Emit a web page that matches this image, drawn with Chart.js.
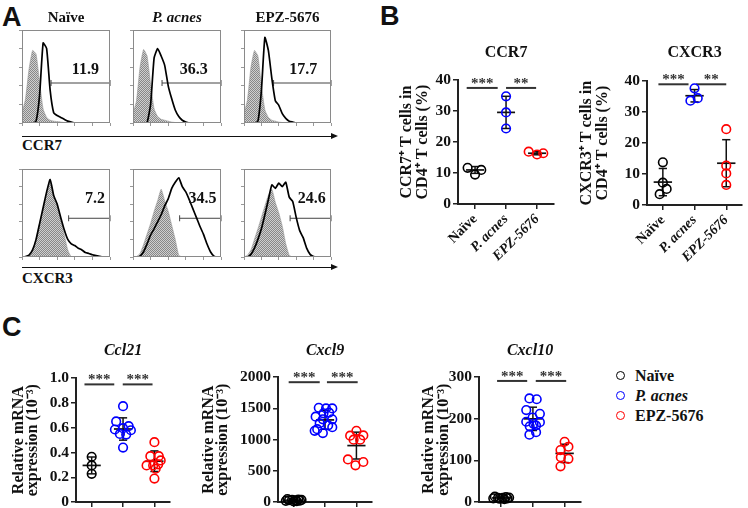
<!DOCTYPE html>
<html lang="en">
<head>
<meta charset="UTF-8">
<title>CCR7 and CXCR3 in CD4+ T cells</title>
<script src="https://cdn.jsdelivr.net/npm/chart.js"></script>
<style>
  body { margin: 0; width: 748px; height: 508px; position: relative; overflow: hidden; background: #fff;
         font-family: "Liberation Serif", "Times New Roman", serif; color: #111; }
  canvas { position: absolute; }
  .panel { position: absolute; font-family: "Liberation Sans", Arial, sans-serif; font-weight: bold;
           font-size: 27px; line-height: 27px; }
  .axisname { position: absolute; font-weight: bold; font-size: 15px; line-height: 16px; }
  .arrow { position: absolute; height: 1px; background: #111; }
  .arrow:after { content: ""; position: absolute; right: -6px; top: -3px; border-left: 7px solid #111;
                 border-top: 3.5px solid transparent; border-bottom: 3.5px solid transparent; }
  .leg { position: absolute; left: 615px; height: 20px; line-height: 20px; padding-left: 20px;
         font-weight: bold; font-size: 16px; }
  .leg span { position: absolute; left: 1px; top: 5px; width: 7px; height: 7px; border: 1.6px solid; border-radius: 50%; }
</style>
</head>
<body>
<div class="panel" style="left:2px;top:4px">A</div>
<div class="panel" style="left:380px;top:3px">B</div>
<div class="panel" style="left:2px;top:314px">C</div>

<div class="arrow" style="left:22px;top:136px;width:310px"></div>
<div class="axisname" style="left:22px;top:137px">CCR7</div>
<div class="arrow" style="left:22px;top:267px;width:310px"></div>
<div class="axisname" style="left:22px;top:270px">CXCR3</div>

<script>
// ---- data ----
const groups = ['Naïve', 'P. acnes', 'EPZ-5676'];
const groupColors = ['#000000', '#0000ff', '#ff0000'];

// flow histograms, % of max height along the log fluorescence axis
const histX = [0, 4, 8, 12, 16, 20, 24, 28, 32, 36, 40, 44, 48, 52, 56, 60, 64, 68, 72, 76, 80, 84, 88, 92, 96, 100];
const ccr7IsoNaive   = [11, 26, 58, 78, 74, 44, 15, 6, 3, 2, 1.5, 1, 0.5, 0, 0, 0, 0, 0, 0, 0, 0, 0, 0, 0, 0, 0];
const ccr7StainNaive = [0, 0, 0, 0, 2, 30, 86, 80, 35, 11, 8, 6, 4, 2, 1, 0, 0, 0, 0, 0, 0, 0, 0, 0, 0, 0];
const ccr7IsoAcnes   = [10, 24, 60, 79, 72, 42, 15, 7, 4, 3, 2, 1, 0.5, 0, 0, 0, 0, 0, 0, 0, 0, 0, 0, 0, 0, 0];
const ccr7StainAcnes = [0, 0, 0, 0, 0.5, 20, 70, 80, 72, 62, 40, 26, 14, 7, 3, 1, 0, 0, 0, 0, 0, 0, 0, 0, 0, 0];
const ccr7IsoEpz     = [10, 25, 60, 78, 72, 40, 14, 6, 3, 2, 1, 0.5, 0, 0, 0, 0, 0, 0, 0, 0, 0, 0, 0, 0, 0, 0];
const ccr7StainEpz   = [0, 0, 0, 0, 2, 35, 92, 78, 48, 24, 19, 10, 5, 2, 1, 0, 0, 0, 0, 0, 0, 0, 0, 0, 0, 0];
const cxcr3IsoNaive   = [0, 0.5, 2, 8, 20, 38, 55, 72, 85, 68, 58, 42, 25, 8, 0, 0, 0, 0, 0, 0, 0, 0, 0, 0, 0, 0];
const cxcr3StainNaive = [0, 0.5, 2, 8, 20, 38, 56, 74, 88, 70, 60, 45, 31, 20, 15, 13, 10, 8, 5, 4, 2.5, 1.5, 0.7, 0, 0, 0];
const cxcr3IsoAcnes   = [0, 0.5, 4, 14, 26, 38, 52, 64, 77, 64, 52, 36, 20, 2, 0, 0, 0, 0, 0, 0, 0, 0, 0, 0, 0, 0];
const cxcr3StainAcnes = [0, 0, 1, 6, 15, 25, 32, 40, 48, 58, 66, 78, 85, 90, 80, 74, 65, 55, 45, 35, 26, 15, 6, 1, 0, 0];
const cxcr3IsoEpz     = [0, 2, 8, 20, 32, 45, 58, 70, 77, 62, 50, 35, 15, 2, 0, 0, 0, 0, 0, 0, 0, 0, 0, 0, 0, 0];
const cxcr3StainEpz   = [0, 0, 3, 10, 20, 32, 48, 65, 82, 78, 84, 80, 85, 68, 63, 45, 30, 22, 10, 3, 0.5, 0, 0, 0, 0, 0];
const ccr7GateStart = [33, 33, 34];
const ccr7GateLevel = 43;
const ccr7Percent = ['11.9', '36.3', '17.7'];
const cxcr3GateStart = [53, 53, 53];
const cxcr3GateLevel = 44;
const cxcr3Percent = ['7.2', '34.5', '24.6'];

// B: % positive cells
const ccr7Naive = [11.7, 9.5, 11.0];          const ccr7NaiveJit = [-0.24, 0, 0.2];
const ccr7Acnes = [34.8, 29.6, 24.4];         const ccr7AcnesJit = [0, 0, 0];
const ccr7Epz = [16.9, 16.0, 16.4];           const ccr7EpzJit = [-0.27, 0, 0.2];
const ccr7Mean = [11.0, 29.6, 16.4];          const ccr7Sd = [1.1, 5.2, 0.5];
const ccr7SigFrom = [-0.27, 1.0];  const ccr7SigTo = [0.73, 1.97];  const ccr7SigY = 37.5;  const ccr7Stars = ['***', '**'];

const cxcr3Naive = [13.8, 7.2, 5.2, 3.5];     const cxcr3NaiveJit = [0, 0, 0.12, -0.1];
const cxcr3Acnes = [37.7, 33.7, 34.5];        const cxcr3AcnesJit = [0, -0.13, 0.1];
const cxcr3Epz = [24.5, 12.7, 10.2, 6.5];     const cxcr3EpzJit = [0, 0, 0, 0];
const cxcr3Mean = [7.4, 35.3, 13.5];          const cxcr3Sd = [4.4, 2.0, 7.6];
const cxcr3SigFrom = [-0.14, 1.05]; const cxcr3SigTo = [0.81, 2.0]; const cxcr3SigY = 39;  const cxcr3Stars = ['***', '**'];

// C: relative mRNA (10^-3)
const ccl21Naive = [0.366, 0.296, 0.228];     const ccl21NaiveJit = [0, 0, 0];
const ccl21Acnes = [0.774, 0.651, 0.613, 0.597, 0.586, 0.58, 0.55, 0.545, 0.44];
const ccl21AcnesJit = [0, -0.22, 0.18, 0, -0.26, 0.25, -0.1, 0.1, 0];
const ccl21Epz = [0.484, 0.371, 0.371, 0.336, 0.305, 0.296, 0.296, 0.27, 0.19];
const ccl21EpzJit = [0, -0.13, 0.14, 0.2, 0.12, -0.25, -0.04, 0.04, 0];
const ccl21Mean = [0.296, 0.59, 0.33];        const ccl21Sd = [0.068, 0.09, 0.083];
const ccl21SigFrom = [-0.23, 0.99]; const ccl21SigTo = [0.72, 1.94]; const ccl21SigY = 0.95; const ccl21Stars = ['***', '***'];

const cxcl9Naive = [48, 42, 38, 35, 30, 28, 25, 20, 15, 10];
const cxcl9NaiveJit = [-0.2, 0.15, -0.05, 0.25, -0.15, 0.05, 0.2, -0.25, 0.1, 0];
const cxcl9Acnes = [1511, 1500, 1500, 1432, 1421, 1368, 1326, 1326, 1263, 1230, 1200, 1168, 1142, 1105];
const cxcl9AcnesJit = [-0.2, 0.03, 0.23, 0.13, -0.05, -0.3, -0.07, 0.23, -0.17, 0.1, 0.23, -0.25, -0.33, -0.07];
const cxcl9Epz = [1142, 1068, 1063, 1000, 1000, 684, 642, 589];
const cxcl9EpzJit = [0, 0.22, -0.2, -0.09, 0.12, -0.27, 0.22, -0.03];
const cxcl9Mean = [30, 1316, 905];            const cxcl9Sd = [12, 150, 215];
const cxcl9SigFrom = [-0.16, 1.06]; const cxcl9SigTo = [0.83, 2.04]; const cxcl9SigY = 1920; const cxcl9Stars = ['***', '***'];

const cxcl10Naive = [13, 12, 11, 10, 10, 9, 9, 8, 7];
const cxcl10NaiveJit = [-0.2, 0.15, 0.25, -0.1, 0.05, -0.25, 0.2, -0.05, 0.1];
const cxcl10Acnes = [249, 247, 221, 212, 203, 193, 192, 188, 184, 182, 168, 162];
const cxcl10AcnesJit = [-0.11, 0.12, -0.21, 0.22, -0.01, -0.21, 0.22, 0.02, 0.1, -0.1, 0.1, -0.11];
const cxcl10Epz = [145, 133, 125, 108, 104, 86];
const cxcl10EpzJit = [0, 0.12, -0.13, -0.12, 0.12, -0.13];
const cxcl10Mean = [10, 200, 117];            const cxcl10Sd = [2, 28, 22];
const cxcl10SigFrom = [-0.13, 1.09]; const cxcl10SigTo = [0.82, 2.05]; const cxcl10SigY = 291; const cxcl10Stars = ['***', '***'];

// ---- helpers ----
const serif = '"Liberation Serif", "Times New Roman", serif';
Chart.defaults.font.family = serif;
Chart.defaults.color = '#111';
Chart.defaults.animation = false;
Chart.defaults.plugins.legend.display = false;
Chart.defaults.plugins.tooltip.enabled = false;

function mount(left, top, w, h) {
  const c = document.createElement('canvas');
  c.width = w; c.height = h;
  c.style.left = left + 'px'; c.style.top = top + 'px';
  c.style.width = w + 'px'; c.style.height = h + 'px';
  document.body.appendChild(c);
  return c;
}

// text at data coordinates (percent labels, significance stars)
const notes = {
  id: 'notes',
  afterDatasetsDraw(chart, args, opts) {
    const { ctx, scales: { x, y } } = chart;
    (opts.items || []).forEach(it => {
      ctx.save();
      ctx.font = it.font;
      ctx.fillStyle = it.color || '#111';
      ctx.textAlign = 'center';
      ctx.textBaseline = it.baseline || 'alphabetic';
      ctx.fillText(it.text, x.getPixelForValue(it.x), y.getPixelForValue(it.y) + (it.dy || 0));
      ctx.restore();
    });
  }
};

const frame = {
  id: 'frame',
  afterDraw(chart) {
    const { ctx, chartArea: a } = chart;
    ctx.save();
    ctx.strokeStyle = '#8a8a8a';
    ctx.lineWidth = 1;
    ctx.strokeRect(Math.round(a.left) + 0.5, Math.round(a.top) + 0.5, Math.round(a.width) - 1, Math.round(a.height) - 1);
    ctx.restore();
  }
};

function stipple(canvas) {
  const p = document.createElement('canvas');
  p.width = 2; p.height = 2;
  const g = p.getContext('2d');
  g.fillStyle = '#cfcfcf'; g.fillRect(0, 0, 2, 2);
  g.fillStyle = '#888888'; g.fillRect(0, 0, 1, 1); g.fillRect(1, 1, 1, 1);
  return canvas.getContext('2d').createPattern(p, 'repeat');
}

function histChart(canvas, o) {
  const fixed = (w, h) => s => { if (w != null) s.width = w; if (h != null) s.height = h;
    s.paddingLeft = 0; s.paddingRight = 0; s.paddingTop = 0; s.paddingBottom = 0; };
  new Chart(canvas, {
    type: 'scatter',
    data: { datasets: [
      { data: histX.map((x, i) => ({ x, y: o.stain[i] })), showLine: true, borderColor: '#000',
        borderWidth: 1.7, pointRadius: 0, tension: 0.15, fill: false },
      { data: histX.map((x, i) => ({ x, y: o.iso[i] })), showLine: true, borderColor: '#999',
        borderWidth: 0.6, backgroundColor: stipple(canvas), fill: 'origin', pointRadius: 0, tension: 0.15 },
      { data: [{ x: o.gate, y: o.level }, { x: 100, y: o.level }], showLine: true, borderColor: '#444',
        borderWidth: 1, pointStyle: 'line', rotation: 90, pointRadius: 3, pointBorderColor: '#444',
        pointBorderWidth: 1, clip: false }
    ] },
    options: {
      responsive: false,
      layout: { padding: { top: o.title ? 0 : 2 } },
      scales: {
        x: { type: 'linear', min: 0, max: 100, ticks: { display: false, stepSize: 20 },
             grid: { drawOnChartArea: false, tickLength: 3, color: '#999' }, border: { display: false },
             afterFit: fixed(null, 4) },
        y: { min: 0, max: 100, ticks: { display: false, stepSize: 20 },
             grid: { drawOnChartArea: false, tickLength: 3, color: '#999' }, border: { display: false },
             afterFit: fixed(4, null) }
      },
      plugins: {
        title: { display: !!o.title, text: o.title, fullSize: false, color: '#111',
                 font: { size: 15, weight: 'bold', style: o.italic ? 'italic' : 'normal', lineHeight: 1.2 },
                 padding: { top: 0, bottom: 3 } },
        notes: { items: [{ text: o.pct, x: o.labelX, y: o.labelY, font: 'bold 16px ' + serif, baseline: 'middle' }] }
      }
    },
    plugins: [notes, frame]
  });
}

function seg(x1, y1, x2, y2, color, width) {
  return { data: [{ x: x1, y: y1 }, { x: x2, y: y2 }], showLine: true, borderColor: color,
           borderWidth: width, pointRadius: 0, clip: false };
}

function dotChart(canvas, o) {
  const datasets = [];
  o.sets.forEach((s, i) => {
    datasets.push({ data: s.vals.map((v, k) => ({ x: i + s.jit[k], y: v })), showLine: false,
      pointStyle: 'circle', pointRadius: 4.3, pointBorderWidth: 1.6, borderColor: groupColors[i],
      pointBorderColor: groupColors[i], backgroundColor: 'rgba(255,255,255,0)', clip: false });
  });
  o.mean.forEach((m, i) => {
    const hi = m + o.sd[i], lo = m - o.sd[i];
    datasets.push(seg(i - 0.29, m, i + 0.29, m, '#111', 1.7));
    datasets.push(seg(i, lo, i, hi, '#111', 1.5));
    datasets.push(seg(i - 0.13, hi, i + 0.13, hi, '#111', 1.5));
    datasets.push(seg(i - 0.13, lo, i + 0.13, lo, '#111', 1.5));
  });
  const stars = [];
  o.sigFrom.forEach((f, i) => {
    datasets.push(seg(f, o.sigY, o.sigTo[i], o.sigY, '#333', 2));
    stars.push({ text: o.stars[i], x: (f + o.sigTo[i]) / 2, y: o.sigY, dy: 0, font: 'bold 15px ' + serif, color: '#333' });
  });
  new Chart(canvas, {
    type: 'scatter',
    data: { datasets },
    options: {
      responsive: false,
      layout: { padding: 0 },
      scales: {
        x: { type: 'linear', min: o.xMin, max: o.xMax,
             afterBuildTicks: s => { s.ticks = [0, 1, 2].map(v => ({ value: v })); },
             ticks: { display: !!o.labels, minRotation: 45, maxRotation: 45, padding: 2,
                      callback: (v, i) => o.labels ? o.labels[i] : '',
                      font: c => ({ family: serif, size: 14, weight: 'bold', style: c.index > 0 ? 'italic' : 'normal' }) },
             grid: { drawOnChartArea: false, tickLength: 5, lineWidth: 1.5, color: '#222' },
             border: { width: 2, color: '#222' },
             afterFit: s => { s.height = o.xh; s.paddingLeft = 0; s.paddingRight = 0; } },
        y: { min: 0, max: o.yMax,
             ticks: { stepSize: o.yStep, padding: 2, callback: o.fmt,
                      font: { family: serif, size: 15.5, weight: 'bold' } },
             grid: { drawOnChartArea: false, tickLength: 5, lineWidth: 1.5, color: '#222' },
             border: { width: 2, color: '#222' },
             title: { display: true, text: o.yTitle, padding: 0,
                      font: { family: serif, size: o.yTitleSize, weight: 'bold', lineHeight: o.yTitleLH } },
             afterFit: s => { s.width = o.yw; s.paddingTop = 0; s.paddingBottom = 0; } }
      },
      plugins: {
        title: { display: true, text: o.title, fullSize: false, color: '#111',
                 font: { size: 16, weight: 'bold', style: o.italic ? 'italic' : 'normal', lineHeight: 1.2 },
                 padding: { top: 0, bottom: o.titlePad } },
        notes: { items: stars }
      }
    },
    plugins: [notes]
  });
}

// ---- panel A ----
const topBoxes = [[17, 98], [128, 98], [239, 97]];
const ccr7Iso = [ccr7IsoNaive, ccr7IsoAcnes, ccr7IsoEpz];
const ccr7Stain = [ccr7StainNaive, ccr7StainAcnes, ccr7StainEpz];
const cxcr3Iso = [cxcr3IsoNaive, cxcr3IsoAcnes, cxcr3IsoEpz];
const cxcr3Stain = [cxcr3StainNaive, cxcr3StainAcnes, cxcr3StainEpz];
const ccr7LabelX = [72, 69, 68];
const cxcr3LabelX = [83, 79, 78];
topBoxes.forEach(([left, w], i) => {
  histChart(mount(left, 9, w, 119), { title: groups[i], italic: i === 1, iso: ccr7Iso[i], stain: ccr7Stain[i],
    gate: ccr7GateStart[i], level: ccr7GateLevel, pct: ccr7Percent[i], labelX: ccr7LabelX[i], labelY: 57 });
  histChart(mount(left, 164, w, 98), { title: '', iso: cxcr3Iso[i], stain: cxcr3Stain[i],
    gate: cxcr3GateStart[i], level: cxcr3GateLevel, pct: cxcr3Percent[i], labelX: cxcr3LabelX[i], labelY: 66 });
});

// ---- panel B ----
const intFmt = v => String(Math.round(v));
dotChart(mount(399, 43, 161, 225), {
  title: 'CCR7', yTitle: ['CCR7⁺ T cells in', 'CD4⁺ T cells (%)'], yTitleSize: 16, yTitleLH: 1.0,
  sets: [{ vals: ccr7Naive, jit: ccr7NaiveJit }, { vals: ccr7Acnes, jit: ccr7AcnesJit }, { vals: ccr7Epz, jit: ccr7EpzJit }],
  mean: ccr7Mean, sd: ccr7Sd, sigFrom: ccr7SigFrom, sigTo: ccr7SigTo, sigY: ccr7SigY, stars: ccr7Stars,
  yMax: 40, yStep: 10, fmt: intFmt, xMin: -0.55, xMax: 2.55, labels: groups, yw: 59, xh: 64, titlePad: 18
});
dotChart(mount(579, 43, 169, 225), {
  title: 'CXCR3', yTitle: ['CXCR3⁺ T cells in', 'CD4⁺ T cells (%)'], yTitleSize: 16, yTitleLH: 1.0,
  sets: [{ vals: cxcr3Naive, jit: cxcr3NaiveJit }, { vals: cxcr3Acnes, jit: cxcr3AcnesJit }, { vals: cxcr3Epz, jit: cxcr3EpzJit }],
  mean: cxcr3Mean, sd: cxcr3Sd, sigFrom: cxcr3SigFrom, sigTo: cxcr3SigTo, sigY: cxcr3SigY, stars: cxcr3Stars,
  yMax: 40, yStep: 10, fmt: intFmt, xMin: -0.5, xMax: 2.5, labels: groups, yw: 68, xh: 63, titlePad: 19
});

// ---- panel C ----
const mrnaTitle = ['Relative mRNA', 'expression (10⁻³)'];
dotChart(mount(12, 341, 164, 167), {
  title: 'Ccl21', italic: true, yTitle: mrnaTitle, yTitleSize: 16, yTitleLH: 0.85,
  sets: [{ vals: ccl21Naive, jit: ccl21NaiveJit }, { vals: ccl21Acnes, jit: ccl21AcnesJit }, { vals: ccl21Epz, jit: ccl21EpzJit }],
  mean: ccl21Mean, sd: ccl21Sd, sigFrom: ccl21SigFrom, sigTo: ccl21SigTo, sigY: ccl21SigY, stars: ccl21Stars,
  yMax: 1, yStep: 0.2, fmt: v => (v === 0 ? '0' : v.toFixed(1)), xMin: -0.5, xMax: 2.5, labels: null,
  yw: 64, xh: 5, titlePad: 18
});
dotChart(mount(202, 341, 176, 167), {
  title: 'Cxcl9', italic: true, yTitle: mrnaTitle, yTitleSize: 16, yTitleLH: 0.85,
  sets: [{ vals: cxcl9Naive, jit: cxcl9NaiveJit }, { vals: cxcl9Acnes, jit: cxcl9AcnesJit }, { vals: cxcl9Epz, jit: cxcl9EpzJit }],
  mean: cxcl9Mean, sd: cxcl9Sd, sigFrom: cxcl9SigFrom, sigTo: cxcl9SigTo, sigY: cxcl9SigY, stars: cxcl9Stars,
  yMax: 2000, yStep: 500, fmt: intFmt, xMin: -0.5, xMax: 2.5, labels: null,
  yw: 76, xh: 5, titlePad: 17
});
dotChart(mount(421, 341, 166, 167), {
  title: 'Cxcl10', italic: true, yTitle: mrnaTitle, yTitleSize: 16, yTitleLH: 0.95,
  sets: [{ vals: cxcl10Naive, jit: cxcl10NaiveJit }, { vals: cxcl10Acnes, jit: cxcl10AcnesJit }, { vals: cxcl10Epz, jit: cxcl10EpzJit }],
  mean: cxcl10Mean, sd: cxcl10Sd, sigFrom: cxcl10SigFrom, sigTo: cxcl10SigTo, sigY: cxcl10SigY, stars: cxcl10Stars,
  yMax: 300, yStep: 100, fmt: intFmt, xMin: -0.7, xMax: 2.52, labels: null,
  yw: 58, xh: 5, titlePad: 17
});

// legend for panel C
const legendY = [376, 396, 416];
groups.forEach((g, i) => {
  const d = document.createElement('div');
  d.className = 'leg';
  d.style.top = (legendY[i] - 10) + 'px';
  if (i === 1) d.style.fontStyle = 'italic';
  const dot = document.createElement('span');
  dot.style.borderColor = groupColors[i];
  d.appendChild(dot);
  d.appendChild(document.createTextNode(g));
  document.body.appendChild(d);
});
</script>
</body>
</html>
